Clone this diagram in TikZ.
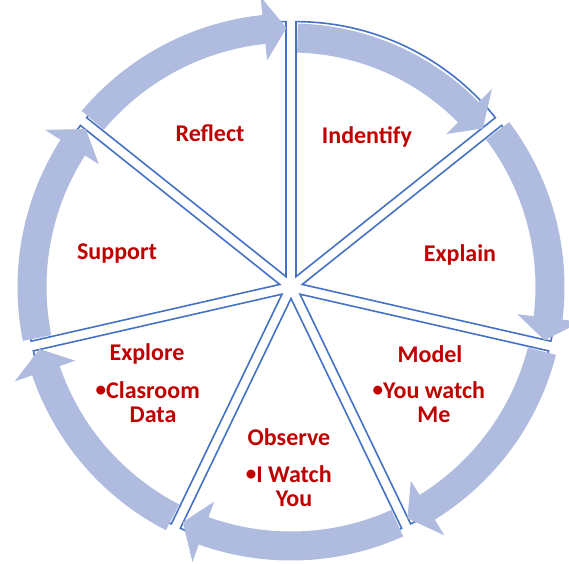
\documentclass[tikz,border=0pt]{standalone}
\usepackage{fontspec}
\setmainfont{Carlito}
\definecolor{arrowblue}{RGB}{175,188,224}
\definecolor{edgeblue}{RGB}{68,114,196}
\definecolor{labelred}{RGB}{192,0,0}
\newcommand{\notebullet}{\llap{\raisebox{1.5pt}{\fontsize{21}{24}\selectfont\textbullet}}}
\begin{document}
\begin{tikzpicture}[x=1pt,y=1pt,
    wedge/.style={draw=edgeblue,line width=1.6pt,fill=white},
    cyclearrow/.style={fill=arrowblue},
    steplabel/.style={text=labelred,font=\fontsize{24}{24}\selectfont\bfseries},
    notelabel/.style={steplabel,align=center}]
  \useasboundingbox (-291,-276) rectangle (278,287);
  % exploded pie, seven segments
  \foreach \k in {0,...,6} {
    \pgfmathsetmacro{\angA}{90-360/7*\k}
    \pgfmathsetmacro{\angB}{\angA-360/7}
    \pgfmathsetmacro{\angM}{\angA-180/7}
    \draw[wedge] (\angM:11.5) -- ++(\angA:255) arc[start angle=\angA,end angle=\angB,radius=255] -- cycle;
  }
  % curved arrows round the rim
  \foreach \k/\rr in {0/249,1/259,2/259,3/259,4/259,5/259,6/259} {
    \pgfmathsetmacro{\angA}{90-360/7*\k}
    \pgfmathsetmacro{\angB}{\angA-360/7}
    \pgfmathsetmacro{\angS}{\angA-1.5}
    \pgfmathsetmacro{\angH}{\angB+6}
    \pgfmathsetmacro{\angT}{\angB+1}
    \fill[cyclearrow] (\angS:\rr+14.5) arc[start angle=\angS,end angle=\angH,radius=\rr+14.5]
      -- (\angH:\rr+33) -- (\angT:\rr) -- (\angH:\rr-31) -- (\angH:\rr-14.5)
      arc[start angle=\angH,end angle=\angS,radius=\rr-14.5] -- cycle;
  }
  \node[steplabel] (reflect) at (-81,154) {Reflect};
  \node[steplabel] (identify) at (76,150) {Indentify};
  \node[steplabel] (explain) at (169,32) {Explain};
  \node[steplabel] (model) at (139,-67) {Model};
  \node[notelabel] (modelnote) at (143,-115) {\notebullet You watch\\Me};
  \node[steplabel] (observe) at (-2,-150) {Observe};
  \node[notelabel] (observenote) at (3,-199) {\notebullet I Watch\\You};
  \node[steplabel] (explore) at (-144,-67) {Explore};
  \node[notelabel] (explorenote) at (-138,-115) {\notebullet Clasroom\\Data};
  \node[steplabel] (support) at (-174,33) {Support};
\end{tikzpicture}
\end{document}
